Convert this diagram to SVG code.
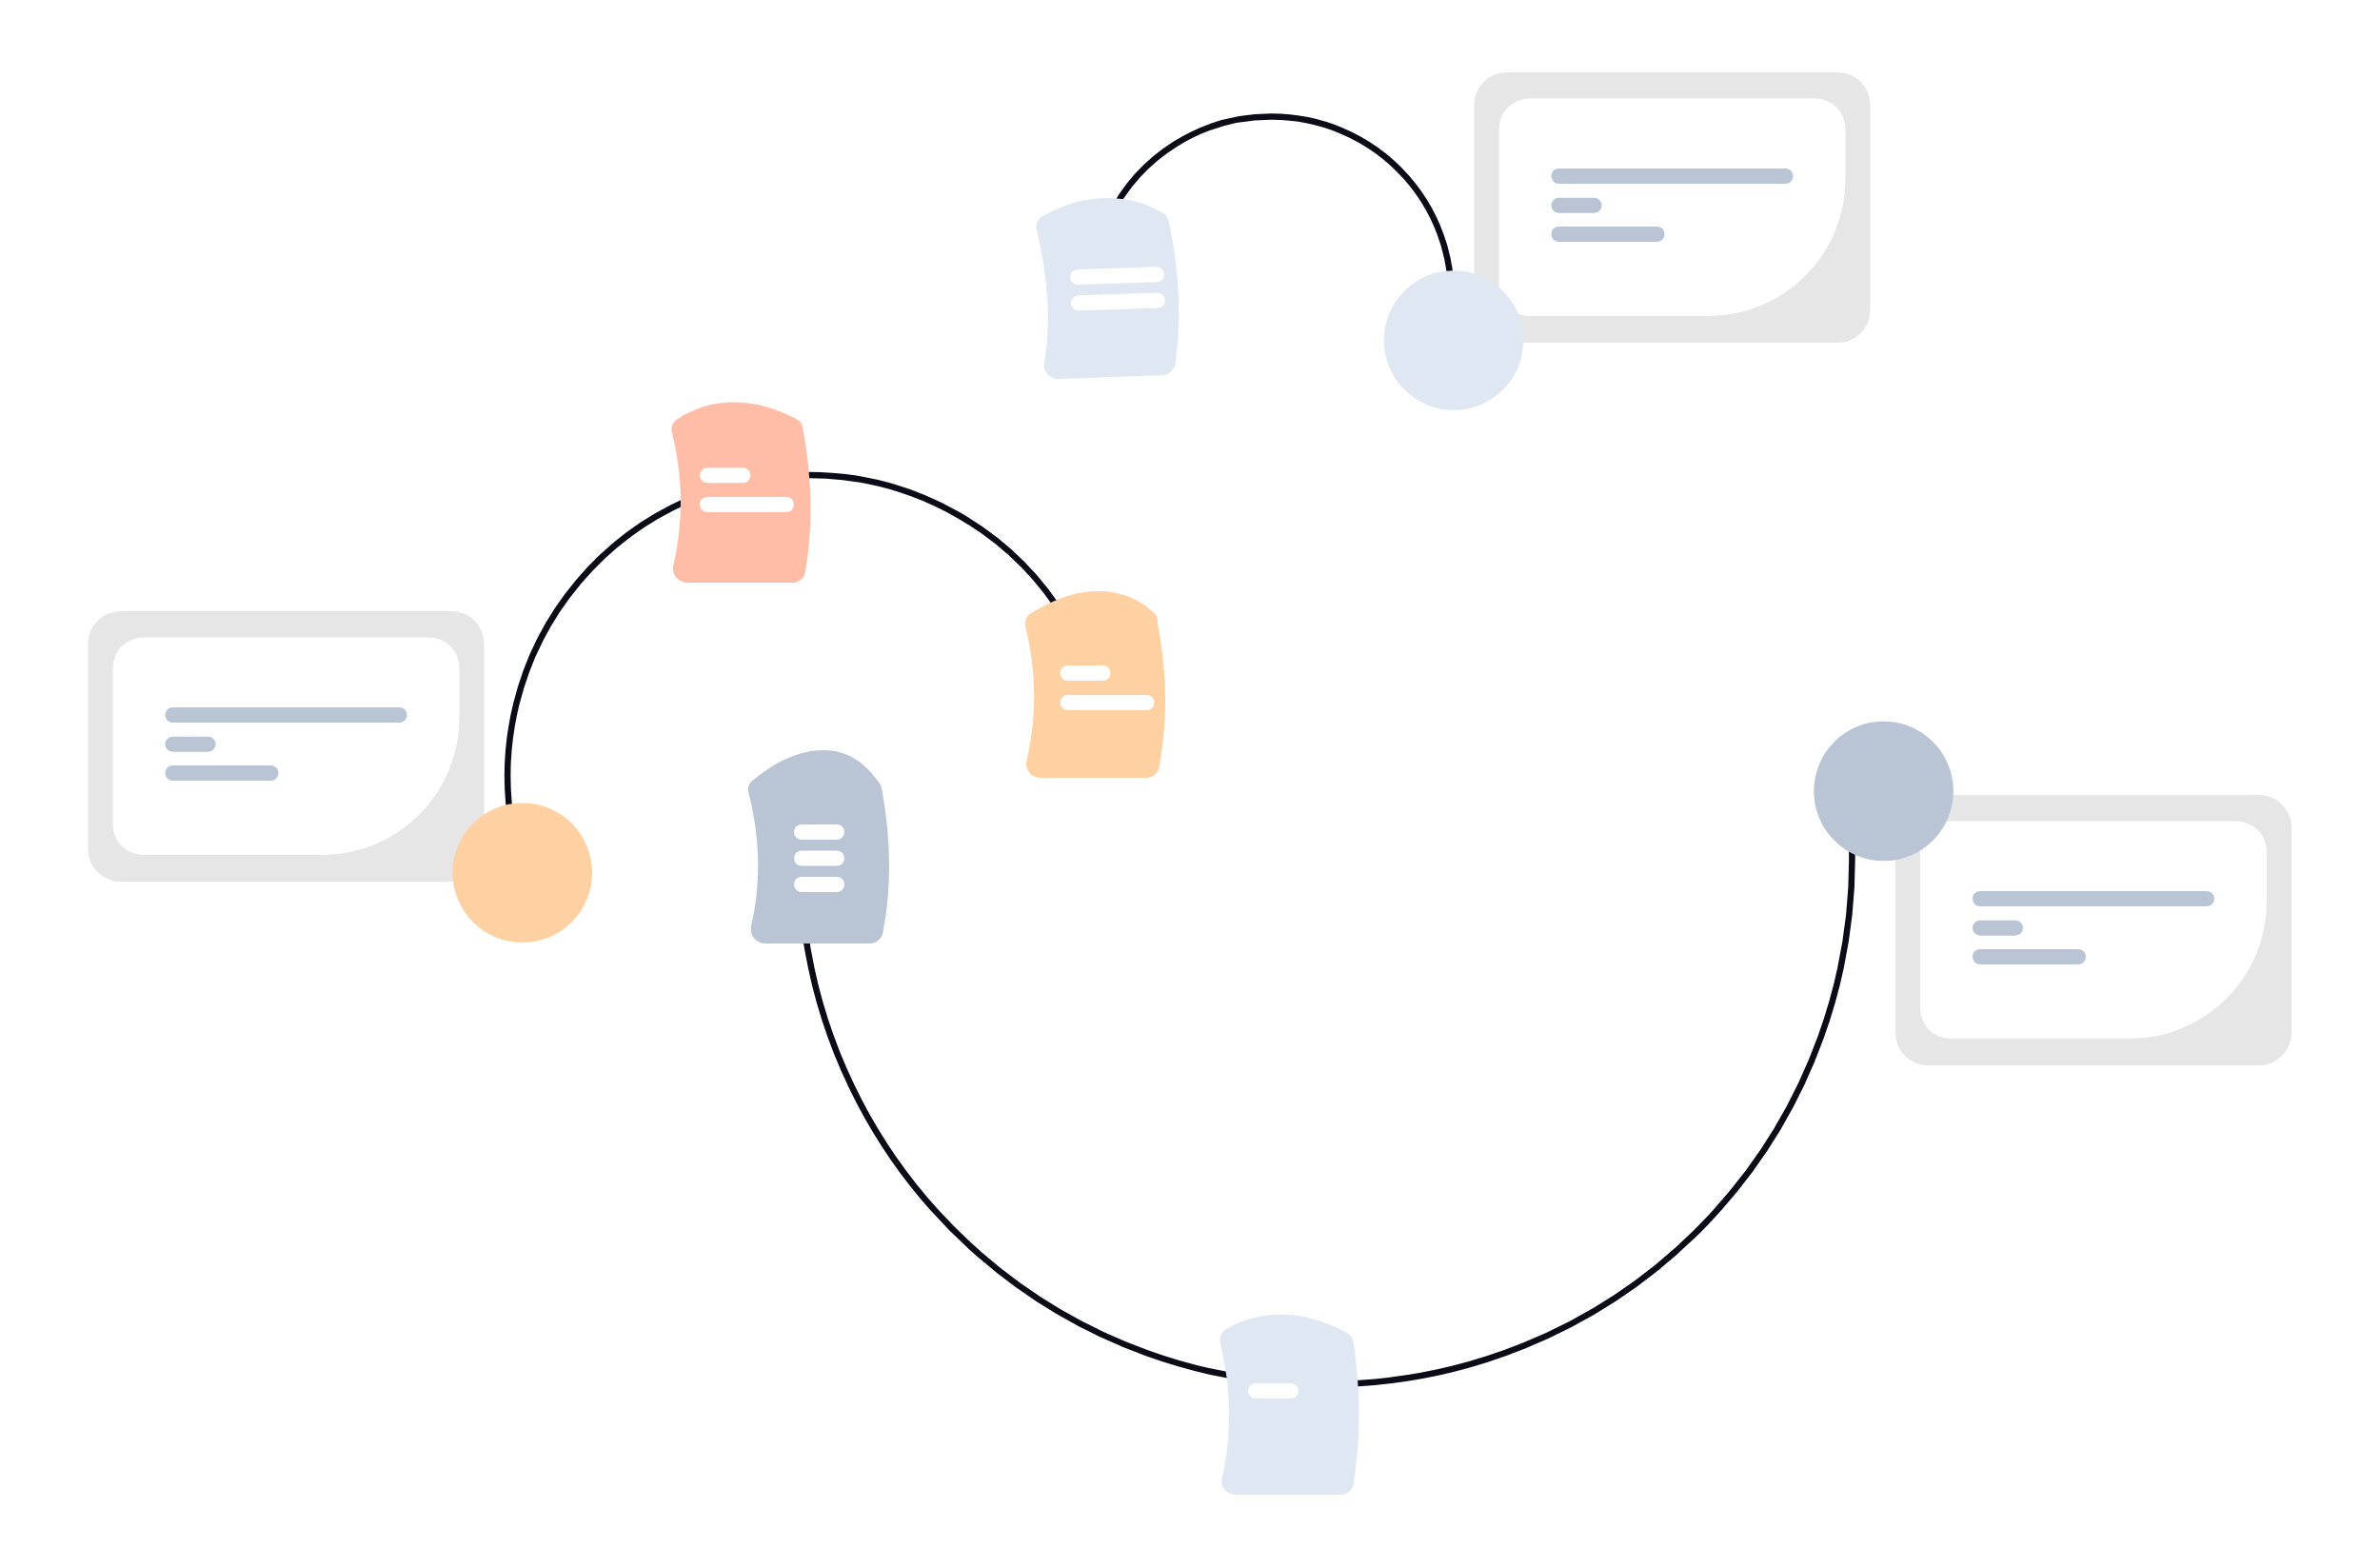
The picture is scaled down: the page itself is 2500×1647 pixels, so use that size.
<svg xmlns="http://www.w3.org/2000/svg" width="2500" height="1647" viewBox="0 0 2500 1647">
<style>
.line{fill:none;stroke:#0c0b18;stroke-width:6.500}
.outer{fill:#e6e6e6}
.inner{fill:#fff}
.slate{fill:#b9c5d4}
.blue{fill:#dfe7f3}
.peach{fill:#ffd0a1}
.red{fill:#ffbda7}
.w{fill:#fff}
</style>
<defs>
<g id="card">
<rect class="outer" width="416" height="284" rx="34"/>
<path class="inner" d="M58 27.500H358A32 32 0 0 1 390 59.500V112A144 144 0 0 1 246 256H58A32 32 0 0 1 26 224V59.500A32 32 0 0 1 58 27.500Z"/>
<rect class="slate" x="81" y="101" width="254" height="16" rx="8"/>
<rect class="slate" x="81" y="131.700" width="53" height="16" rx="8"/>
<rect class="slate" x="81" y="162" width="119" height="16" rx="8"/>
</g>
</defs>
<rect width="2500" height="1647" fill="#fff"/>
<g id="card-left"><use href="#card" x="92.500" y="642"/></g>
<g id="card-top"><use href="#card" x="1548.500" y="76"/></g>
<g id="card-right"><use href="#card" x="1991" y="835"/></g>
<g id="connectors">
<path class="line" d="M1165 229A188.500 188.500 0 0 1 1335 122.500A188.500 188.500 0 0 1 1523 335"/>
<path class="line" d="M538 870A316 316 0 0 1 850 499A316 316 0 0 1 1120 652"/>
<path class="line" d="M845 975A552 552 0 0 0 1393 1454A552 552 0 0 0 1945 880"/>
</g>
<g id="circle-peach"><circle class="peach" cx="548.700" cy="916.700" r="73.300"/></g>
<g id="circle-blue"><circle class="blue" cx="1527" cy="357.500" r="73.300"/></g>
<g id="circle-slate"><circle class="slate" cx="1978.600" cy="831" r="73.300"/></g>
<g id="doc-blue-top">
<path class="blue" d="M1097.400 226C1120 214 1140 208 1162.500 208C1185 208 1203 213 1220 223A14 14 0 0 1 1228 234Q1244 310 1235 380A15 15 0 0 1 1222 394L1112.700 398A15 15 0 0 1 1096.600 383Q1108 320 1089 242A13 13 0 0 1 1097.400 226Z"/>
<rect class="w" x="1124" y="281.700" width="99" height="16" rx="8" transform="rotate(-1.900 1173 290)"/>
<rect class="w" x="1125" y="309" width="99" height="16" rx="8" transform="rotate(-1.900 1174 317)"/>
</g>
<g id="doc-red">
<path class="red" d="M713.500 439C733 427 751 422.500 771.400 422.500C793 422.500 815 429 835.500 439.500A14 14 0 0 1 843.500 451Q858 530 846 600A14 14 0 0 1 832 612H722A15 15 0 0 1 707 595.600Q723.500 525 706 455A13 13 0 0 1 713.500 439Z"/>
<rect class="w" x="735" y="491.300" width="53.400" height="16" rx="8"/>
<rect class="w" x="735" y="522" width="99" height="16" rx="8"/>
</g>
<g id="doc-peach">
<path class="peach" d="M1085 643C1110 628 1130 621 1154.400 621C1175 621 1195 628 1210 642A14 14 0 0 1 1216 655Q1231 732 1218 803A14 14 0 0 1 1203 817H1094A15 15 0 0 1 1078 801Q1095 730 1077 657A13 13 0 0 1 1085 643Z"/>
<rect class="w" x="1113.700" y="699" width="52.800" height="16" rx="8"/>
<rect class="w" x="1113.700" y="730" width="98.800" height="16" rx="8"/>
</g>
<g id="doc-slate">
<path class="slate" d="M793 818C815 800 840 788 864.500 788C890 788 908 800 924 823A14 14 0 0 1 926.500 830Q941 910 927.500 979A14 14 0 0 1 913 991H804.500A15 15 0 0 1 789 973Q805 905 786 831A13 13 0 0 1 793 818Z"/>
<rect class="w" x="834" y="866" width="53" height="16" rx="8"/>
<rect class="w" x="834" y="893.500" width="53" height="16" rx="8"/>
<rect class="w" x="834" y="921" width="53" height="16" rx="8"/>
</g>
<g id="doc-blue-bottom">
<path class="blue" d="M1290 1395C1308 1385 1325 1380.700 1346.700 1380.700C1370 1380.700 1393 1388 1415 1400A14 14 0 0 1 1421.700 1410Q1433 1485 1422 1557A14 14 0 0 1 1406.700 1570H1298A15 15 0 0 1 1283 1555Q1300 1485 1281.700 1410A13 13 0 0 1 1290 1395Z"/>
<rect class="w" x="1311" y="1453" width="53" height="16" rx="8"/>
</g>
</svg>
